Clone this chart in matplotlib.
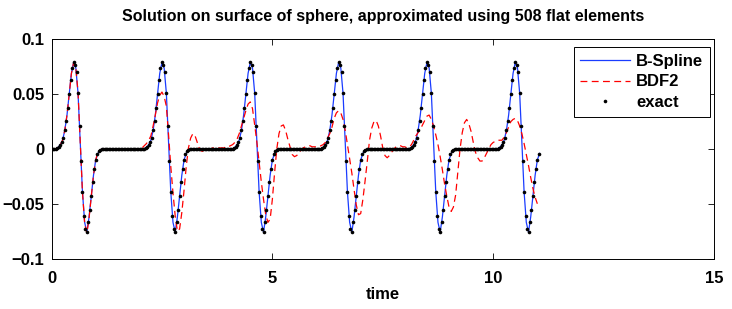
import matplotlib

matplotlib.use("Agg")
import matplotlib.pyplot as plt
import numpy as np

plt.rcParams["font.family"] = ["Liberation Sans", "DejaVu Sans"]
plt.rcParams["font.weight"] = "bold"

TITLE = "Solution on surface of sphere, approximated using 508 flat elements"
X_LABEL = "time"
SERIES_NAMES = ["B-Spline", "BDF2", "exact"]
X_TICKS = [0, 5, 10, 15]
Y_TICKS = [-0.1, -0.05, 0, 0.05, 0.1]
Y_TICK_LABELS = ["\u22120.1", "\u22120.05", "0", "0.05", "0.1"]

EXACT_DT = 1.0 / 30.0
exact = [
    # t = 0 .. 2
    0.0, 0.0, 0.0, 0.0003, 0.001, 0.002, 0.004, 0.0065, 0.010, 0.017,
    0.026, 0.037, 0.050, 0.063, 0.074, 0.079, 0.077, 0.070, 0.051, 0.021,
    -0.011, -0.039, -0.061, -0.073, -0.076, -0.067, -0.056, -0.043, -0.030, -0.018,
    -0.010, -0.005, -0.002, -0.001, 0.0, 0.0, 0.0, 0.0, 0.0, 0.0,
    0.0, 0.0, 0.0, 0.0, 0.0, 0.0, 0.0, 0.0, 0.0, 0.0,
    0.0, 0.0, 0.0, 0.0, 0.0, 0.0, 0.0, 0.0, 0.0, 0.0,
    # t = 2 .. 4
    0.0, 0.0, 0.0, 0.0003, 0.001, 0.002, 0.004, 0.0065, 0.010, 0.017,
    0.026, 0.037, 0.050, 0.063, 0.074, 0.079, 0.077, 0.070, 0.051, 0.021,
    -0.011, -0.039, -0.061, -0.073, -0.076, -0.067, -0.056, -0.043, -0.030, -0.018,
    -0.010, -0.005, -0.002, -0.001, 0.0, 0.0, 0.0, 0.0, 0.0, 0.0,
    0.0, 0.0, 0.0, 0.0, 0.0, 0.0, 0.0, 0.0, 0.0, 0.0,
    0.0, 0.0, 0.0, 0.0, 0.0, 0.0, 0.0, 0.0, 0.0, 0.0,
    # t = 4 .. 6
    0.0, 0.0, 0.0, 0.0003, 0.001, 0.002, 0.004, 0.0065, 0.010, 0.017,
    0.026, 0.037, 0.050, 0.063, 0.074, 0.079, 0.077, 0.070, 0.051, 0.021,
    -0.011, -0.039, -0.061, -0.073, -0.076, -0.067, -0.056, -0.043, -0.030, -0.018,
    -0.010, -0.005, -0.002, -0.001, 0.0, 0.0, 0.0, 0.0, 0.0, 0.0,
    0.0, 0.0, 0.0, 0.0, 0.0, 0.0, 0.0, 0.0, 0.0, 0.0,
    0.0, 0.0, 0.0, 0.0, 0.0, 0.0, 0.0, 0.0, 0.0, 0.0,
    # t = 6 .. 8
    0.0, 0.0, 0.0, 0.0003, 0.001, 0.002, 0.004, 0.0065, 0.010, 0.017,
    0.026, 0.037, 0.050, 0.063, 0.074, 0.079, 0.077, 0.070, 0.051, 0.021,
    -0.011, -0.039, -0.061, -0.073, -0.076, -0.067, -0.056, -0.043, -0.030, -0.018,
    -0.010, -0.005, -0.002, -0.001, 0.0, 0.0, 0.0, 0.0, 0.0, 0.0,
    0.0, 0.0, 0.0, 0.0, 0.0, 0.0, 0.0, 0.0, 0.0, 0.0,
    0.0, 0.0, 0.0, 0.0, 0.0, 0.0, 0.0, 0.0, 0.0, 0.0,
    # t = 8 .. 10
    0.0, 0.0, 0.0, 0.0003, 0.001, 0.002, 0.004, 0.0065, 0.010, 0.017,
    0.026, 0.037, 0.050, 0.063, 0.074, 0.079, 0.077, 0.070, 0.051, 0.021,
    -0.011, -0.039, -0.061, -0.073, -0.076, -0.067, -0.056, -0.043, -0.030, -0.018,
    -0.010, -0.005, -0.002, -0.001, 0.0, 0.0, 0.0, 0.0, 0.0, 0.0,
    0.0, 0.0, 0.0, 0.0, 0.0, 0.0, 0.0, 0.0, 0.0, 0.0,
    0.0, 0.0, 0.0, 0.0, 0.0, 0.0, 0.0, 0.0, 0.0, 0.0,
    # t = 10 .. 11.03
    0.0, 0.0, 0.0, 0.0003, 0.001, 0.002, 0.004, 0.0065, 0.010, 0.017,
    0.026, 0.037, 0.050, 0.063, 0.074, 0.079, 0.077, 0.070, 0.051, 0.021,
    -0.011, -0.039, -0.061, -0.073, -0.076, -0.067, -0.056, -0.043, -0.030, -0.018,
    -0.010, -0.005,
]

# B-spline and BDF2 solutions, every 0.05 time unit
LINE_DT = 0.05
bspline = [
    0.0, 0.0, 0.0003, 0.0015, 0.004, 0.008, 0.017, 0.031, 0.050, 0.069,
    0.079, 0.074, 0.051, 0.005, -0.039, -0.067, -0.076, -0.062, -0.043, -0.024,
    -0.010, -0.004, -0.001, 0.0, 0.0, 0.0, 0.0, 0.0, 0.0, 0.0,
    0.0, 0.0, 0.0, 0.0, 0.0, 0.0, 0.0, 0.0, 0.0, 0.0,
    0.0, 0.0, 0.0003, 0.0015, 0.004, 0.008, 0.017, 0.031, 0.050, 0.069,
    0.079, 0.074, 0.051, 0.005, -0.039, -0.067, -0.076, -0.062, -0.043, -0.024,
    -0.010, -0.004, -0.001, 0.0, 0.0, 0.0, 0.0, 0.0, 0.0, 0.0,
    0.0, 0.0, 0.0, 0.0, 0.0, 0.0, 0.0, 0.0, 0.0, 0.0,
    0.0, 0.0, 0.0003, 0.0015, 0.004, 0.008, 0.017, 0.031, 0.050, 0.069,
    0.079, 0.074, 0.051, 0.005, -0.039, -0.067, -0.076, -0.062, -0.043, -0.024,
    -0.010, -0.004, -0.001, 0.0, 0.0, 0.0, 0.0, 0.0, 0.0, 0.0,
    0.0, 0.0, 0.0, 0.0, 0.0, 0.0, 0.0, 0.0, 0.0, 0.0,
    0.0, 0.0, 0.0003, 0.0015, 0.004, 0.008, 0.017, 0.031, 0.050, 0.069,
    0.079, 0.074, 0.051, 0.005, -0.039, -0.067, -0.076, -0.062, -0.043, -0.024,
    -0.010, -0.004, -0.001, 0.0, 0.0, 0.0, 0.0, 0.0, 0.0, 0.0,
    0.0, 0.0, 0.0, 0.0, 0.0, 0.0, 0.0, 0.0, 0.0, 0.0,
    0.0, 0.0, 0.0003, 0.0015, 0.004, 0.008, 0.017, 0.031, 0.050, 0.069,
    0.079, 0.074, 0.051, 0.005, -0.039, -0.067, -0.076, -0.062, -0.043, -0.024,
    -0.010, -0.004, -0.001, 0.0, 0.0, 0.0, 0.0, 0.0, 0.0, 0.0,
    0.0, 0.0, 0.0, 0.0, 0.0, 0.0, 0.0, 0.0, 0.0, 0.0,
    0.0, 0.0, 0.0003, 0.0015, 0.004, 0.008, 0.017, 0.031, 0.050, 0.069,
    0.079, 0.074, 0.051, 0.005, -0.039, -0.067, -0.076, -0.062, -0.043, -0.024,
    -0.010, -0.004,
]

bdf2 = [
    # t = 0 .. 2
    0.0, 0.0, 0.0003, 0.0015, 0.004, 0.008, 0.017, 0.031, 0.050, 0.069,
    0.079, 0.074, 0.052, 0.006, -0.039, -0.068, -0.077, -0.063, -0.043, -0.024,
    -0.010, -0.003, -0.001, 0.0, 0.0, 0.0, 0.0, 0.0, 0.0, 0.0,
    0.0, 0.0, 0.0, 0.0, 0.0, 0.0, 0.0, 0.0, 0.0, 0.0,
    # t = 2 .. 4
    0.0, 0.001, 0.003, 0.005, 0.008, 0.012, 0.021, 0.031, 0.042, 0.049,
    0.052, 0.048, 0.039, 0.013, -0.016, -0.040, -0.061, -0.075, -0.073, -0.058,
    -0.038, -0.016, 0.001, 0.010, 0.014, 0.012, 0.006, 0.000, -0.002, -0.002,
    -0.001, 0.0, 0.0, 0.001, 0.001, 0.001, 0.001, 0.001, 0.001, 0.002,
    # t = 4 .. 6
    0.002, 0.003, 0.004, 0.006, 0.009, 0.014, 0.021, 0.028, 0.035, 0.041,
    0.043, 0.037, 0.022, 0.006, -0.012, -0.030, -0.046, -0.060, -0.067, -0.064,
    -0.046, -0.022, 0.000, 0.014, 0.021, 0.022, 0.017, 0.009, 0.002, -0.005,
    -0.007, -0.006, -0.004, -0.001, 0.001, 0.002, 0.003, 0.003, 0.002, 0.002,
    # t = 6 .. 8
    0.002, 0.002, 0.003, 0.004, 0.006, 0.010, 0.014, 0.020, 0.028, 0.033,
    0.035, 0.033, 0.027, 0.017, 0.004, -0.009, -0.022, -0.037, -0.051, -0.060,
    -0.059, -0.046, -0.029, -0.011, 0.008, 0.019, 0.025, 0.026, 0.021, 0.012,
    0.001, -0.006, -0.008, -0.006, -0.003, 0.000, 0.002, 0.003, 0.003, 0.002,
    # t = 8 .. 10
    0.002, 0.001, 0.002, 0.004, 0.008, 0.012, 0.015, 0.018, 0.022, 0.026,
    0.030, 0.031, 0.027, 0.021, 0.013, 0.004, -0.007, -0.019, -0.032, -0.043,
    -0.053, -0.057, -0.053, -0.042, -0.021, 0.000, 0.015, 0.024, 0.027, 0.023,
    0.016, 0.006, -0.003, -0.008, -0.011, -0.011, -0.008, -0.004, 0.000, 0.004,
    # t = 10 .. 11
    0.006, 0.007, 0.008, 0.008, 0.008, 0.011, 0.015, 0.020, 0.025, 0.027,
    0.028, 0.026, 0.021, 0.014, 0.005, -0.005, -0.015, -0.026, -0.036, -0.044,
    -0.050,
]

exact_t = np.arange(len(exact)) * EXACT_DT
bspline_t = np.arange(len(bspline)) * LINE_DT
bdf2_t = np.arange(len(bdf2)) * LINE_DT

fig = plt.figure(figsize=(7.32, 3.09), dpi=100)
ax = fig.add_axes([0.0704, 0.1634, 0.905, 0.7088])

ax.plot(bspline_t, bspline, color="#1a3cff", lw=0.9, label=SERIES_NAMES[0])
ax.plot(bdf2_t, bdf2, color="#ff0000", lw=0.9, dashes=(5.5, 3.5), label=SERIES_NAMES[1])
ax.plot(exact_t, exact, ls="none", marker="o", ms=2.6, mec="none", mfc="black",
        label=SERIES_NAMES[2])

ax.set_xlim(0, 15)
ax.set_ylim(-0.1, 0.1)
ax.set_xticks(X_TICKS, [str(v) for v in X_TICKS])
ax.set_yticks(Y_TICKS, Y_TICK_LABELS)
ax.tick_params(direction="in", length=4, width=0.6, top=True, right=True,
               labelsize=12, pad=5)
ax.tick_params(axis="x", pad=9)
for label in ax.get_xticklabels() + ax.get_yticklabels():
    label.set_fontweight("bold")
for spine in ax.spines.values():
    spine.set_linewidth(0.7)

ax.set_xlabel(X_LABEL, fontsize=12, fontweight="bold", labelpad=1)
ax.set_title(TITLE, fontsize=11.5, fontweight="bold", pad=13)

leg = ax.legend(loc="upper right", bbox_to_anchor=(0.994, 0.966), borderaxespad=0,
                fancybox=False, edgecolor="black", framealpha=1,
                prop={"size": 12, "weight": "bold"}, handlelength=3.0,
                handletextpad=0.35, labelspacing=0.35, borderpad=0.4)
leg.get_frame().set_linewidth(0.7)

fig.savefig("out.png", dpi=100)
